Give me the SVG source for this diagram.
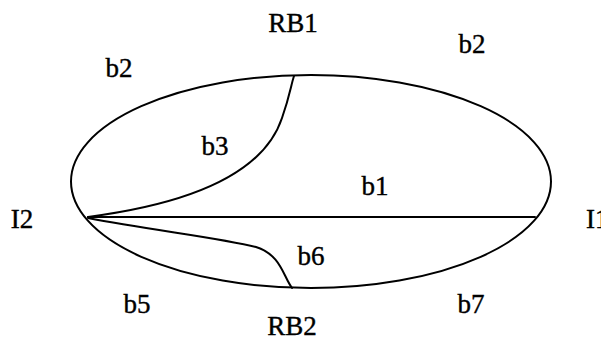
<svg xmlns="http://www.w3.org/2000/svg" width="601" height="342" viewBox="0 0 601 342">
<style>
.l{fill:none;stroke:#000;stroke-width:2;stroke-linecap:round;stroke-linejoin:round}
.t{font-family:"Liberation Serif","Times New Roman",serif;font-size:27px;fill:#000;stroke:#000;stroke-width:0.4;text-anchor:middle}
</style>
<rect width="601" height="342" fill="#fff"/>
<g id="region">
<ellipse class="l" cx="311" cy="181.5" rx="240" ry="106.5"/>
</g>
<g id="connectors">
<path id="b3-boundary" class="l" d="M88,217 C180,205 262,178 282,118 C290,95 291,85 294,76"/>
<path id="b1-axis" class="l" d="M88,217 L535,217"/>
<path id="b6-boundary" class="l" d="M88,218 C150,230 222,238 256,247 C281,255 283,276 292,288"/>
</g>
<g id="labels">
<text class="t" x="293" y="32">RB1</text>
<text class="t" x="472" y="53">b2</text>
<text class="t" x="119" y="77">b2</text>
<text class="t" x="215" y="155">b3</text>
<text class="t" x="375" y="195">b1</text>
<text class="t" x="22" y="228">I2</text>
<text class="t" x="586" y="228" style="text-anchor:start">I1</text>
<text class="t" x="311" y="265">b6</text>
<text class="t" x="137" y="313">b5</text>
<text class="t" x="471" y="313">b7</text>
<text class="t" x="292" y="335">RB2</text>
</g>
</svg>
